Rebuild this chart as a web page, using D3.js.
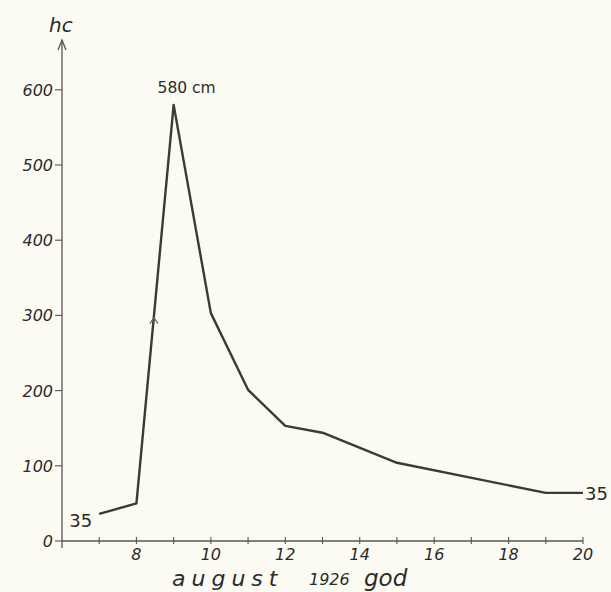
<!DOCTYPE html>
<html>
<head>
<meta charset="utf-8">
<script src="https://cdn.jsdelivr.net/npm/d3@7"></script>
<style>
  body { margin: 0; background: #fbfaf3; }
  text { font-family: "DejaVu Sans", sans-serif; fill: #2a2a2a; }
  .tick_lbl { font-style: italic; font-size: 16px; }
</style>
</head>
<body>
<div id="chart"></div>
<script>
// water level hc (cm), august 1926
const days = [7, 8, 9, 10, 11, 12, 13, 15, 19, 20];
const levels = [36, 50, 580, 303, 201, 153, 144, 104, 64, 64];
const yTicks = [0, 100, 200, 300, 400, 500, 600];
const xTicks = [7, 8, 9, 10, 11, 12, 13, 14, 15, 16, 17, 18, 19, 20];
const xLabels = [8, 10, 12, 14, 16, 18, 20];

const width = 611, height = 592;

let svg = d3.select("#chart")
    .append("svg")
    .attr("width", width)
    .attr("height", height);

svg.append("rect")
    .attr("width", width)
    .attr("height", height)
    .attr("fill", "#fbfaf3");

let x = d3.scaleLinear().domain([6, 20]).range([62, 583]);
let y = d3.scaleLinear().domain([0, 600]).range([541, 89.8]);

const ink = "#3a3a3a";

// y axis with arrow
svg.append("line")
    .attr("x1", x(6)).attr("x2", x(6))
    .attr("y1", y(0) + 7).attr("y2", 40)
    .attr("stroke", "#555").attr("stroke-width", 1.3);
svg.append("path")
    .attr("d", `M${x(6) - 4},50 L${x(6)},40 L${x(6) + 4},50`)
    .attr("fill", "none").attr("stroke", "#555").attr("stroke-width", 1.3);

svg.append("text")
    .text("hc")
    .attr("x", 49).attr("y", 32)
    .attr("font-size", "20px")
    .attr("font-style", "italic");

// y ticks
yTicks.forEach(function (d) {
    svg.append("line")
        .attr("x1", x(6) - 7).attr("x2", x(6))
        .attr("y1", y(d)).attr("y2", y(d))
        .attr("stroke", "#555").attr("stroke-width", 1.1);
    svg.append("text")
        .text(d)
        .attr("class", "tick_lbl")
        .attr("x", x(6) - 9).attr("y", y(d) + 6)
        .attr("text-anchor", "end");
});

// x axis
svg.append("line")
    .attr("x1", x(6)).attr("x2", x(20))
    .attr("y1", y(0)).attr("y2", y(0))
    .attr("stroke", "#555").attr("stroke-width", 1.3);

xTicks.forEach(function (d) {
    svg.append("line")
        .attr("x1", x(d)).attr("x2", x(d))
        .attr("y1", y(0) - 4).attr("y2", y(0) + 3)
        .attr("stroke", "#555").attr("stroke-width", 1.1);
});

xLabels.forEach(function (d) {
    svg.append("text")
        .text(d)
        .attr("class", "tick_lbl")
        .attr("x", x(d)).attr("y", y(0) + 19)
        .attr("text-anchor", "middle");
});

// axis title
svg.append("text")
    .text("august")
    .attr("x", 172).attr("y", 586)
    .attr("font-size", "22px")
    .attr("font-style", "italic")
    .attr("letter-spacing", "6px");
svg.append("text")
    .text("1926")
    .attr("x", 309).attr("y", 585)
    .attr("font-size", "16px")
    .attr("font-style", "italic");
svg.append("text")
    .text("god")
    .attr("x", 364).attr("y", 586)
    .attr("font-size", "23px")
    .attr("font-style", "italic");

// hydrograph line
let line = d3.line()
    .x(function (d, i) { return x(days[i]); })
    .y(function (d) { return y(d); });

svg.append("path")
    .datum(levels)
    .attr("d", line)
    .attr("fill", "none")
    .attr("stroke", ink)
    .attr("stroke-width", 2.4)
    .attr("stroke-linejoin", "round");

// small arrow on the rising limb
let ax = x(8.47), ay = y(297);
svg.append("path")
    .attr("d", `M${ax - 4},${ay + 6} L${ax},${ay} L${ax + 4},${ay + 6}`)
    .attr("fill", "none").attr("stroke", "#666").attr("stroke-width", 1.2);

// annotations
svg.append("text")
    .text("580 cm")
    .attr("x", x(9) + 13).attr("y", y(580) - 12)
    .attr("text-anchor", "middle")
    .attr("font-size", "15.5px");

svg.append("text")
    .text("35")
    .attr("x", x(7) - 7).attr("y", y(36) + 13)
    .attr("text-anchor", "end")
    .attr("font-size", "18px");

svg.append("text")
    .text("35")
    .attr("x", x(20) + 2).attr("y", y(64) + 7)
    .attr("font-size", "18px");
</script>
</body>
</html>
